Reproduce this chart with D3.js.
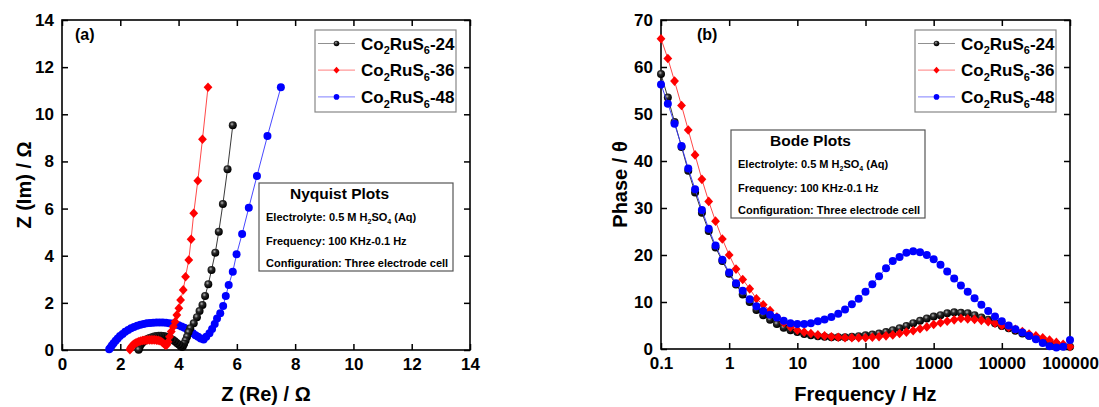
<!DOCTYPE html>
<html lang="en">
<head>
<meta charset="UTF-8">
<title>Nyquist and Bode plots</title>
<script src="https://cdn.jsdelivr.net/npm/d3@7"></script>
<style>
  body { margin: 0; background: #fff; }
  text { font-family: "Liberation Sans", Arial, sans-serif; font-weight: bold; fill: #000; }
  .axis text { font-family: "Liberation Sans", Arial, sans-serif; font-size: 17px; font-weight: bold; }
  .axis line { stroke: #000; stroke-width: 1.5; }
  .axis .domain { display: none; }
</style>
</head>
<body>
<div id="chart"></div>
<script>
// ---------------- data ----------------
var sampleNames = ["24", "36", "48"];

// Nyquist (a): Z(Re), Z(Im) in ohm, low frequency first
var nyqRe24 = [5.86, 5.68, 5.52, 5.38, 5.26, 5.13, 5.02, 4.91, 4.82, 4.72, 4.63, 4.52, 4.40, 4.34, 4.29, 4.24, 4.19, 4.15, 4.12,
  4.07, 4.01, 3.94, 3.87, 3.80, 3.72, 3.64, 3.56, 3.48, 3.40, 3.32, 3.24, 3.16, 3.08, 3.00, 2.93, 2.86, 2.80, 2.74, 2.69, 2.66, 2.64, 2.63];
var nyqIm24 = [9.53, 7.67, 6.19, 5.02, 4.13, 3.39, 2.79, 2.29, 1.91, 1.65, 1.39, 1.13, 0.92, 0.75, 0.56, 0.40, 0.26, 0.16, 0.13,
  0.17, 0.23, 0.30, 0.37, 0.43, 0.49, 0.53, 0.57, 0.59, 0.60, 0.60, 0.59, 0.57, 0.54, 0.51, 0.47, 0.42, 0.36, 0.29, 0.21, 0.13, 0.06, 0.01];

var nyqRe36 = [5.01, 4.82, 4.66, 4.52, 4.43, 4.35, 4.24, 4.16, 4.07, 4.01, 3.94, 3.88, 3.82, 3.75, 3.69, 3.64, 3.60, 3.56, 3.52, 3.47,
  3.42, 3.36, 3.30, 3.24, 3.18, 3.12, 3.06, 3.00, 2.94, 2.88, 2.82, 2.76, 2.70, 2.64, 2.58, 2.53, 2.48, 2.44, 2.40, 2.37, 2.35, 2.33];
var nyqIm36 = [11.15, 8.94, 7.18, 5.80, 4.70, 3.82, 3.11, 2.55, 2.12, 1.77, 1.48, 1.20, 0.99, 0.78, 0.56, 0.35, 0.22, 0.20, 0.24, 0.30,
  0.35, 0.39, 0.41, 0.42, 0.43, 0.43, 0.43, 0.43, 0.43, 0.42, 0.41, 0.40, 0.38, 0.36, 0.33, 0.30, 0.26, 0.22, 0.17, 0.12, 0.07, 0.01];

var nyqRe48 = [7.51, 7.05, 6.69, 6.41, 6.18, 5.99, 5.86, 5.72, 5.62, 5.53, 5.43, 5.32, 5.24, 5.15, 5.06, 4.95, 4.86,
  4.76, 4.67, 4.58, 4.49, 4.40, 4.30, 4.20, 4.10, 4.00, 3.90, 3.79, 3.68, 3.57, 3.46, 3.35, 3.24, 3.13, 3.02, 2.91, 2.80,
  2.69, 2.58, 2.47, 2.37, 2.27, 2.17, 2.08, 1.99, 1.91, 1.84, 1.77, 1.71, 1.66, 1.62];
var nyqIm48 = [11.15, 9.08, 7.38, 6.04, 4.92, 4.06, 3.32, 2.76, 2.29, 1.87, 1.56, 1.34, 1.10, 0.89, 0.71, 0.56, 0.45,
  0.49, 0.56, 0.63, 0.71, 0.79, 0.87, 0.94, 1.00, 1.05, 1.09, 1.12, 1.14, 1.16, 1.17, 1.17, 1.17, 1.16, 1.15, 1.13, 1.10,
  1.07, 1.03, 0.98, 0.92, 0.85, 0.77, 0.68, 0.59, 0.49, 0.39, 0.29, 0.19, 0.10, 0.03];

// Bode (b): frequency in Hz and phase in degrees
var freqHz = [0.1, 0.126, 0.158, 0.2, 0.251, 0.316, 0.398, 0.501, 0.631, 0.794,
  1, 1.26, 1.58, 2, 2.51, 3.16, 3.98, 5.01, 6.31, 7.94,
  10, 12.6, 15.8, 20, 25.1, 31.6, 39.8, 50.1, 63.1, 79.4,
  100, 126, 158, 200, 251, 316, 398, 501, 631, 794,
  1000, 1260, 1580, 2000, 2510, 3160, 3980, 5010, 6310, 7940,
  10000, 12600, 15800, 20000, 25100, 31600, 39800, 50100, 63100, 79400,
  100000];
var phase24 = [58.5, 53.5, 48.3, 43.0, 37.9, 33.3, 29.0, 25.1, 21.6, 18.7,
  16.0, 13.7, 11.6, 10.0, 8.3, 7.2, 6.2, 5.3, 4.5, 4.0,
  3.6, 3.2, 2.9, 2.7, 2.6, 2.5, 2.5, 2.5, 2.6, 2.7,
  2.9, 3.1, 3.3, 3.6, 4.0, 4.4, 4.9, 5.5, 6.0, 6.5,
  6.9, 7.2, 7.6, 7.8, 7.7, 7.6, 7.2, 6.7, 6.2, 5.5,
  4.9, 4.4, 3.9, 3.3, 2.8, 2.3, 1.9, 1.4, 1.0, 0.6,
  0.5];
var phase36 = [66.0, 61.8, 57.0, 51.8, 46.6, 41.3, 36.1, 31.4, 27.2, 23.4,
  20.0, 17.0, 14.8, 12.8, 10.7, 9.4, 8.2, 6.8, 5.6, 4.7,
  4.0, 3.6, 3.3, 3.0, 2.8, 2.6, 2.5, 2.4, 2.4, 2.4,
  2.4, 2.5, 2.6, 2.8, 3.0, 3.3, 3.6, 3.9, 4.3, 4.7,
  5.2, 5.6, 5.9, 6.2, 6.5, 6.4, 6.3, 6.1, 5.8, 5.5,
  5.0, 4.6, 4.2, 3.7, 3.2, 2.8, 2.4, 1.9, 1.4, 1.0,
  0.5];
var phase48 = [56.3, 52.2, 47.9, 43.2, 38.4, 34.0, 29.6, 25.6, 22.0, 19.0,
  16.3, 14.0, 12.4, 10.6, 9.1, 8.1, 7.3, 6.7, 6.0, 5.5,
  5.3, 5.3, 5.5, 5.9, 6.3, 6.8, 7.5, 8.4, 9.5, 10.7,
  12.2, 13.8, 15.5, 17.2, 18.7, 19.6, 20.5, 20.8, 20.6, 20.0,
  19.1, 17.9, 16.5, 15.0, 13.5, 12.2, 10.8, 9.4, 8.1, 6.9,
  5.9, 5.0, 4.2, 3.5, 2.8, 2.1, 1.3, 0.6, 0.3, 0.5,
  1.9];

var nyqTicks = [0, 2, 4, 6, 8, 10, 12, 14];
var phaseTicks = [0, 10, 20, 30, 40, 50, 60, 70];
var freqTicks = [0.1, 1, 10, 100, 1000, 10000, 100000];

var infoLines = [
  [["Electrolyte: 0.5 M H", 0], ["2", 1], ["SO", 0], ["4", 1], [" (Aq)", 0]],
  [["Frequency: 100 KHz-0.1 Hz", 0]],
  [["Configuration: Three electrode cell", 0]]
];

// ---------------- styles ----------------
var style = {
  "24": { line: "#222", fill: "url(#ball)", shape: "circle" },
  "36": { line: "#ff3333", fill: "#ff0000", shape: "diamond" },
  "48": { line: "#3333ff", fill: "#0000ff", shape: "circle" }
};

var svg = d3.select("#chart").append("svg")
    .attr("width", 1099)
    .attr("height", 407);

var grad = svg.append("defs").append("radialGradient")
    .attr("id", "ball").attr("cx", "40%").attr("cy", "35%").attr("r", "60%");
grad.append("stop").attr("offset", "0%").attr("stop-color", "#b8b8b8");
grad.append("stop").attr("offset", "40%").attr("stop-color", "#2a2a2a");
grad.append("stop").attr("offset", "100%").attr("stop-color", "#000");

function diamond(w, h) {
  return "M0," + (-h) + "L" + w + ",0L0," + h + "L" + (-w) + ",0Z";
}

function drawMarkers(g, pts, name, r) {
  var s = style[name];
  if (s.shape === "diamond") {
    g.selectAll(null).data(pts).enter().append("path")
      .attr("d", diamond(r * 1.1, r * 1.2))
      .attr("transform", function(d) { return "translate(" + d[0] + "," + d[1] + ")"; })
      .attr("fill", s.fill);
  } else {
    g.selectAll(null).data(pts).enter().append("circle")
      .attr("cx", function(d) { return d[0]; })
      .attr("cy", function(d) { return d[1]; })
      .attr("r", r)
      .attr("fill", s.fill);
  }
}

function chem(text, parts, big, small) {
  parts.forEach(function(p, i) {
    var prev = i > 0 ? parts[i - 1][1] : 0;
    text.append("tspan")
      .attr("font-size", p[1] ? small : big)
      .attr("dy", p[1] && !prev ? small * 0.45 : (!p[1] && prev ? -small * 0.45 : 0))
      .text(p[0]);
  });
}

function panel(o) {
  var g = svg.append("g");
  var x = o.x, y = o.y;
  var x0 = x.range()[0], x1 = x.range()[1], y0 = y.range()[0], y1 = y.range()[1];

  g.append("g").attr("class", "axis").attr("transform", "translate(0," + y0 + ")")
    .call(d3.axisBottom(x).tickValues(o.xTicks).tickSizeInner(-6).tickSizeOuter(0).tickPadding(8).tickFormat(o.xFmt));
  g.append("g").attr("class", "axis").attr("transform", "translate(0," + y1 + ")")
    .call(d3.axisTop(x).tickValues(o.xTicks).tickSizeInner(-6).tickSizeOuter(0).tickFormat(""));
  g.append("g").attr("class", "axis").attr("transform", "translate(" + x0 + ",0)")
    .call(d3.axisLeft(y).tickValues(o.yTicks).tickSizeInner(-6).tickSizeOuter(0).tickPadding(8));
  g.append("g").attr("class", "axis").attr("transform", "translate(" + x1 + ",0)")
    .call(d3.axisRight(y).tickValues(o.yTicks).tickSizeInner(-6).tickSizeOuter(0).tickFormat(""));

  g.append("rect")
    .attr("x", x0).attr("y", y1).attr("width", x1 - x0).attr("height", y0 - y1)
    .attr("fill", "none").attr("stroke", "#000").attr("stroke-width", 1.6);

  // series
  var line = d3.line();
  o.series.forEach(function(s) {
    var pts = s.xs.map(function(v, i) { return [x(v), y(s.ys[i])]; });
    var sg = g.append("g");
    sg.append("path").attr("d", line(pts)).attr("fill", "none")
      .attr("stroke", style[s.name].line).attr("stroke-width", 0.9);
    drawMarkers(sg, pts, s.name, 4);
  });

  // axis titles
  g.append("text").attr("x", (x0 + x1) / 2).attr("y", 401)
    .attr("text-anchor", "middle").attr("font-size", 20).text(o.xTitle);
  g.append("text")
    .attr("transform", "translate(" + o.yTitleX + "," + (y0 + y1) / 2 + ") rotate(-90)")
    .attr("text-anchor", "middle").attr("font-size", 20).text(o.yTitle);

  // panel letter
  g.append("text").attr("x", o.letterX).attr("y", 40).attr("font-size", 16).text(o.letter);

  // legend
  var lg = g.append("g").attr("transform", "translate(" + o.legend[0] + "," + o.legend[1] + ")");
  lg.append("rect").attr("width", 141).attr("height", 82)
    .attr("fill", "#fff").attr("stroke", "#888").attr("stroke-width", 1.2);
  sampleNames.forEach(function(n, i) {
    var cy = 13.5 + i * 26.7;
    lg.append("line").attr("x1", 3).attr("x2", 40).attr("y1", cy).attr("y2", cy)
      .attr("stroke", style[n].line).attr("stroke-opacity", 0.5).attr("stroke-width", 1.2);
    drawMarkers(lg, [[21.5, cy]], n, 2.8);
    var t = lg.append("text").attr("x", 46).attr("y", cy + 6);
    chem(t, [["Co", 0], ["2", 1], ["RuS", 0], ["6", 1], ["-" + n, 0]], 17, 11);
  });

  // info box
  var ib = g.append("g").attr("transform", "translate(" + o.info[0] + "," + o.info[1] + ")");
  ib.append("rect").attr("width", 194).attr("height", 88)
    .attr("fill", "#fff").attr("stroke", "#555").attr("stroke-width", 1.2);
  ib.append("text").attr("x", o.infoTitleX).attr("y", 16).attr("font-size", 15.5).text(o.infoTitle);
  var ys = [38, 62, 84];
  infoLines.forEach(function(parts, i) {
    var t = ib.append("text").attr("x", 7).attr("y", ys[i]);
    chem(t, parts, 11, 7);
  });
}

var xa = d3.scaleLinear().domain([0, 14]).range([62, 470]);
var ya = d3.scaleLinear().domain([0, 14]).range([350, 20]);

panel({
  x: xa, y: ya, xTicks: nyqTicks, yTicks: nyqTicks, xFmt: d3.format("d"),
  xTitle: "Z (Re) / \u03A9", yTitle: "Z (Im)  / \u03A9", yTitleX: 31,
  letter: "(a)", letterX: 75,
  legend: [315, 30], info: [259, 183], infoTitle: "Nyquist Plots", infoTitleX: 31,
  series: [
    { name: "48", xs: nyqRe48, ys: nyqIm48 },
    { name: "24", xs: nyqRe24, ys: nyqIm24 },
    { name: "36", xs: nyqRe36, ys: nyqIm36 }
  ]
});

var xb = d3.scaleLog().domain([0.1, 100000]).range([661, 1070]);
var yb = d3.scaleLinear().domain([0, 70]).range([349, 20]);

panel({
  x: xb, y: yb, xTicks: freqTicks, yTicks: phaseTicks, xFmt: function(d) { return String(d); },
  xTitle: "Frequency / Hz", yTitle: "Phase / \u03B8", yTitleX: 627,
  letter: "(b)", letterX: 697,
  legend: [915, 30], info: [731, 130], infoTitle: "Bode Plots", infoTitleX: 39,
  series: [
    { name: "24", xs: freqHz, ys: phase24 },
    { name: "36", xs: freqHz, ys: phase36 },
    { name: "48", xs: freqHz, ys: phase48 }
  ]
});
</script>
</body>
</html>
